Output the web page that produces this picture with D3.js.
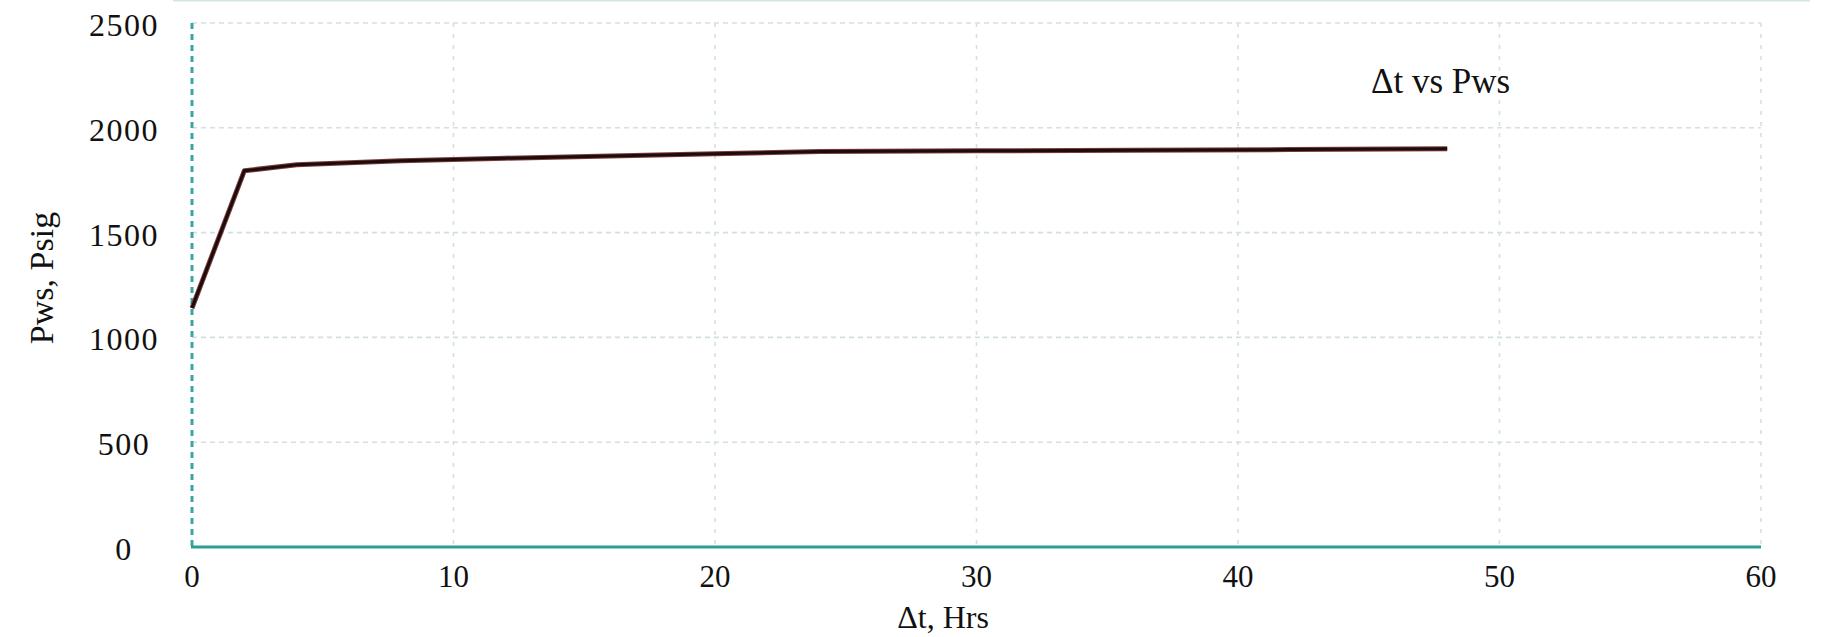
<!DOCTYPE html>
<html>
<head>
<meta charset="utf-8">
<script src="https://cdn.jsdelivr.net/npm/d3@7"></script>
<style>
  html, body { margin: 0; padding: 0; background: #fff; }
  #chart { width: 1824px; height: 637px; }
  text { font-family: "Liberation Serif", "DejaVu Serif", serif; fill: #111; }
</style>
</head>
<body>
<div id="chart"></div>
<script>
// buildup test: shut-in time vs static pressure
const hours = [0, 2, 4, 8, 12, 16, 20, 24, 30, 36, 42, 48];
const pws   = [1140, 1795, 1824, 1843, 1855, 1866, 1876, 1887, 1890, 1893, 1896, 1900];

const xTicks = [0, 10, 20, 30, 40, 50, 60];
const yTicks = [0, 500, 1000, 1500, 2000, 2500];

const seriesName = "\u0394t vs Pws";
const xTitle = "\u0394t, Hrs";
const yTitle = "Pws, Psig";

function draw_chart() {

  const width = 1824, height = 637;
  const margin = { top: 23, right: 63, bottom: 90, left: 192 };
  const innerW = width - margin.left - margin.right;
  const innerH = height - margin.top - margin.bottom;

  const svg = d3.select("#chart").append("svg")
    .attr("width", width)
    .attr("height", height);

  // faint frame line along the top
  svg.append("line")
    .attr("x1", 173).attr("x2", 1810)
    .attr("y1", 0.5).attr("y2", 0.5)
    .attr("stroke", "#cfe8e6")
    .attr("stroke-width", 2);

  const chart = svg.append("g")
    .attr("transform", `translate(${margin.left},${margin.top})`);

  const x = d3.scaleLinear().domain([0, 60]).range([0, innerW]);
  const y = d3.scaleLinear().domain([0, 2500]).range([innerH, 0]);

  // horizontal grid
  chart.append("g")
    .selectAll("line")
    .data(yTicks.filter(d => d > 0))
    .join("line")
    .attr("x1", 0).attr("x2", innerW)
    .attr("y1", d => y(d)).attr("y2", d => y(d))
    .attr("stroke", "#d3e0e3")
    .attr("stroke-width", 1.6)
    .attr("stroke-dasharray", "5 4");

  // vertical grid
  chart.append("g")
    .selectAll("line")
    .data(xTicks.filter(d => d > 0))
    .join("line")
    .attr("x1", d => x(d)).attr("x2", d => x(d))
    .attr("y1", 0).attr("y2", innerH)
    .attr("stroke", "#d3e0e3")
    .attr("stroke-width", 1.6)
    .attr("stroke-dasharray", "4 7");

  // left axis: dotted teal line
  chart.append("line")
    .attr("x1", x(0)).attr("x2", x(0))
    .attr("y1", 0).attr("y2", innerH)
    .attr("stroke", "#3aa6a3")
    .attr("stroke-width", 3)
    .attr("stroke-dasharray", "6 5");

  // bottom axis: solid teal
  chart.append("line")
    .attr("x1", x(0) - 1).attr("x2", innerW)
    .attr("y1", innerH).attr("y2", innerH)
    .attr("stroke", "#2c9c98")
    .attr("stroke-width", 3.2);

  // tick labels
  chart.append("g")
    .selectAll("text")
    .data(yTicks)
    .join("text")
    .attr("x", -68)
    .attr("y", d => y(d) + 2)
    .attr("text-anchor", "middle")
    .attr("dominant-baseline", "central")
    .attr("font-size", "32px")
    .attr("letter-spacing", "1.5px")
    .text(d => d);

  chart.append("g")
    .selectAll("text")
    .data(xTicks)
    .join("text")
    .attr("x", d => x(d))
    .attr("y", innerH + 40)
    .attr("text-anchor", "middle")
    .attr("font-size", "31px")
    .text(d => d);

  // data line
  const pts = hours.map((h, i) => [h, pws[i]]);
  chart.append("path")
    .datum(pts)
    .attr("fill", "none")
    .attr("stroke", "#7a3b3b")
    .attr("stroke-width", 5)
    .attr("stroke-linejoin", "round")
    .attr("d", d3.line().x(d => x(d[0])).y(d => y(d[1])));
  chart.append("path")
    .datum(pts)
    .attr("fill", "none")
    .attr("stroke", "#1e0c0c")
    .attr("stroke-width", 3)
    .attr("stroke-linejoin", "round")
    .attr("d", d3.line().x(d => x(d[0])).y(d => y(d[1])));

  // series label
  svg.append("text")
    .attr("x", 1371)
    .attr("y", 93)
    .attr("font-size", "35px")
    .text(seriesName);

  // axis titles
  svg.append("text")
    .attr("x", 943)
    .attr("y", 628)
    .attr("text-anchor", "middle")
    .attr("font-size", "32px")
    .text(xTitle);

  svg.append("text")
    .attr("transform", "translate(53,278) rotate(-90)")
    .attr("text-anchor", "middle")
    .attr("font-size", "34px")
    .text(yTitle);
}

draw_chart();
</script>
</body>
</html>
